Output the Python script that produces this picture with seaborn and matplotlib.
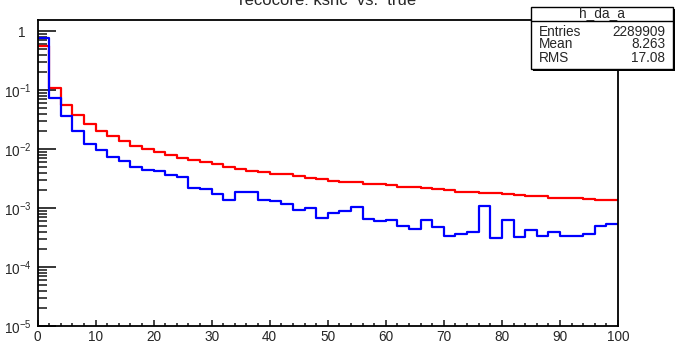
import numpy as np
import pandas as pd
import matplotlib
matplotlib.use("Agg")
import matplotlib.pyplot as plt
import matplotlib.ticker as mticker
import matplotlib.transforms as mtransforms
from matplotlib.patches import Rectangle
import seaborn as sns

# Histogram binning: 50 bins of width 2 over [0, 100]
bin_edges = list(range(0, 101, 2))
bin_centers = [e + 1.0 for e in bin_edges[:-1]]

# Normalised bin contents
red_values = [0.56, 0.111, 0.057, 0.0377, 0.0269, 0.0205, 0.0168, 0.0137, 0.0115, 0.0101,
              0.0089, 0.0079, 0.0071, 0.0065, 0.0060, 0.0055, 0.0050, 0.00464, 0.0043, 0.0041,
              0.00382, 0.00372, 0.00344, 0.00318, 0.00306, 0.0029, 0.00279, 0.00272, 0.00258, 0.00255,
              0.00242, 0.0023, 0.00224, 0.0022, 0.00207, 0.0020, 0.00189, 0.00185, 0.00182, 0.00177,
              0.00173, 0.00168, 0.00162, 0.0016, 0.0015, 0.00149, 0.00148, 0.00144, 0.00138, 0.00135]
blue_values = [0.77, 0.075, 0.0367, 0.020, 0.0122, 0.0098, 0.0074, 0.0064, 0.0049, 0.0045,
               0.0042, 0.0036, 0.0034, 0.0022, 0.0021, 0.00175, 0.00137, 0.00187, 0.00185, 0.00137,
               0.0013, 0.00118, 0.00094, 0.00101, 0.00068, 0.00082, 0.00088, 0.00105, 0.00065, 0.0006,
               0.00063, 0.0005, 0.00045, 0.00063, 0.00048, 0.00034, 0.00037, 0.0004, 0.0011, 0.000306,
               0.00063, 0.00032, 0.00042, 0.000335, 0.0004, 0.00034, 0.00033, 0.00037, 0.0005, 0.00054]

x_ticks = [0, 10, 20, 30, 40, 50, 60, 70, 80, 90, 100]
y_ticks = [1, 1e-1, 1e-2, 1e-3, 1e-4, 1e-5]
y_tick_labels = ["1", "$10^{-1}$", "$10^{-2}$", "$10^{-3}$", "$10^{-4}$", "$10^{-5}$"]

title_text = "recocore: kshc  vs.  true"
stats_name = "h_da_a"
stats_rows = [("Entries", "2289909"), ("Mean", "8.263"), ("RMS", "17.08")]

sns.set_style("white")
plt.rcParams["font.family"] = ["Liberation Sans", "DejaVu Sans"]
plt.rcParams["mathtext.fontset"] = "custom"
plt.rcParams["mathtext.rm"] = "Liberation Sans"
plt.rcParams["mathtext.it"] = "Liberation Sans"

W, H = 676, 345
fig = plt.figure(figsize=(W / 100, H / 100), dpi=100)
fig.patch.set_facecolor("white")
ax = fig.add_axes([37.5 / W, 1 - 326 / H, (618 - 37.5) / W, (326 - 20) / H])

df = pd.DataFrame({"x": bin_centers + bin_centers,
                   "w": red_values + blue_values,
                   "series": ["red"] * len(bin_centers) + ["blue"] * len(bin_centers)})

for name, color in [("red", "#ff0000"), ("blue", "#0000ff")]:
    sns.histplot(data=df[df["series"] == name], x="x", weights="w", bins=bin_edges,
                 element="step", fill=False, color=color, linewidth=1.6, ax=ax)

ax.set_yscale("log")
ax.set_xlim(0, 100)
ax.set_ylim(1e-5, 1.55)
ax.set_xlabel("")
ax.set_ylabel("")

for side in ["left", "bottom", "top", "right"]:
    ax.spines[side].set_visible(True)
    ax.spines[side].set_color("black")
    ax.spines[side].set_linewidth(1.3)

ax.set_xticks(x_ticks)
ax.set_xticklabels([str(t) for t in x_ticks])
ax.xaxis.set_minor_locator(mticker.MultipleLocator(2))
ax.set_yticks(y_ticks)
ax.set_yticklabels(y_tick_labels)
# intermediate log ticks 2..9 within each decade
minor_y = [s * 10.0 ** d for d in range(-5, 1) for s in range(2, 10)]
ax.yaxis.set_minor_locator(mticker.FixedLocator(minor_y))
ax.yaxis.set_minor_formatter(mticker.NullFormatter())

ax.tick_params(axis="x", which="major", direction="in", length=4.2, width=1.2,
               labelsize=9.8, pad=3, top=False, bottom=True)
ax.tick_params(axis="x", which="minor", direction="in", length=2.1, width=1.2,
               top=False, bottom=True)
ax.tick_params(axis="y", which="major", direction="in", length=12.7, width=1.3,
               labelsize=9.8, pad=4, right=False, left=True)
ax.tick_params(axis="y", which="minor", direction="in", length=6.3, width=1.2,
               right=False, left=True)

# the plain "1" label sits under the base of the power labels
for lab in ax.get_yticklabels():
    if lab.get_text() == "1":
        lab.set_transform(lab.get_transform() +
                          mtransforms.ScaledTranslation(-6 / 100, 0, fig.dpi_scale_trans))

# Title, clipped by the top edge of the canvas
fig.text(328 / W, 1 - 5 / H, title_text, ha="center", va="baseline", fontsize=12)

# Statistics box with a drop shadow
bx0, bx1, by0, by1 = 531, 673, 7, 69
fig.patches.append(Rectangle(((bx0 + 2) / W, 1 - (by1 + 2) / H), (bx1 - bx0) / W, (by1 - by0) / H,
                             transform=fig.transFigure, facecolor="black", edgecolor="black",
                             linewidth=0, zorder=5))
fig.patches.append(Rectangle((bx0 / W, 1 - by1 / H), (bx1 - bx0) / W, (by1 - by0) / H,
                             transform=fig.transFigure, facecolor="white", edgecolor="black",
                             linewidth=1.0, zorder=6))
fig.add_artist(plt.Line2D([bx0 / W, bx1 / W], [1 - 21 / H, 1 - 21 / H],
                          transform=fig.transFigure, color="black", linewidth=1.0, zorder=7))
fig.text((bx0 + bx1) / 2 / W, 1 - 17 / H, stats_name, ha="center", va="baseline",
         fontsize=9.8, zorder=8)
for i, (k, v) in enumerate(stats_rows):
    yc = 1 - (31.5 + 13 * i) / H
    fig.text(539 / W, yc, k, ha="left", va="center", fontsize=9.8, zorder=8)
    fig.text(665 / W, yc, v, ha="right", va="center", fontsize=9.8, zorder=8)

fig.savefig("out.png", dpi=100, facecolor="white")
